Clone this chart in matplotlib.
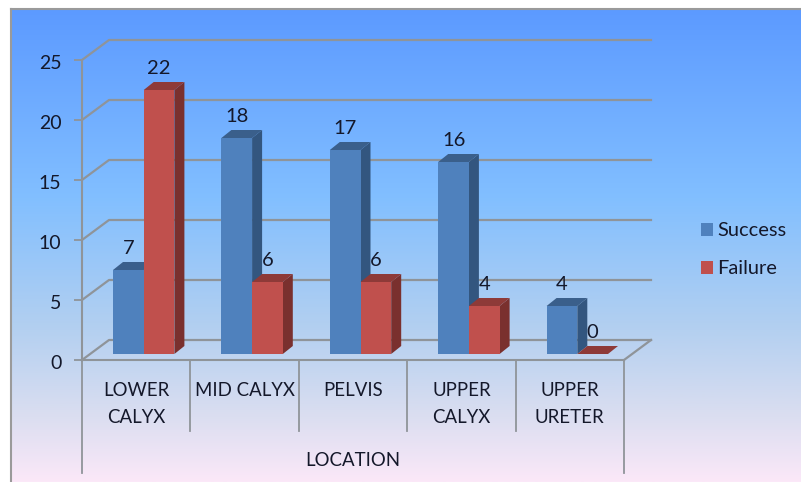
#!/usr/bin/env python3
import numpy as np
from matplotlib import pyplot as plt
from matplotlib.colors import LinearSegmentedColormap
from matplotlib.patches import Patch, Polygon
from matplotlib.transforms import ScaledTranslation

categories = ["LOWER\nCALYX", "MID CALYX", "PELVIS", "UPPER\nCALYX", "UPPER\nURETER"]
success = [7, 18, 17, 16, 4]
failure = [22, 6, 6, 4, 0]
y_ticks = [0, 5, 10, 15, 20, 25]

W, H = 801, 482
LINE = "#8f9499"
TEXT = "#14182a"
BLUE = ("#4f81bd", "#3a5f8b", "#33567f")
RED = ("#c0504d", "#8e3a38", "#7a302e")

# one category is 108.4 px wide, one y unit is 12 px
PX_X = 542 / 5
PX_Y = 12.0
WALL_DX, WALL_DY = 27 / PX_X, 20 / PX_Y
BAR_DX, BAR_DY = 10 / PX_X, 8 / PX_Y
BASE_DX, BASE_DY = 31 / PX_X, 6 / PX_Y
BAR_W = 30.7 / PX_X

plt.rcParams["font.family"] = ["Lato", "DejaVu Sans"]
plt.rcParams["font.size"] = 13.4

fig = plt.figure(figsize=(W / 100, H / 100), dpi=100, facecolor="white")

# gradient background with grey frame on the top and left
bg = fig.add_axes([11 / W, 0, (W - 11) / W, (H - 9) / H])
cmap = LinearSegmentedColormap.from_list(
    "bg",
    [(0, "#5c9aff"), (0.4, "#82bfff"), (0.68, "#b4d0f0"), (0.85, "#d8ddf0"), (1, "#fbe8f8")],
)
bg.imshow(np.linspace(0, 1, 256)[:, None], aspect="auto", cmap=cmap, vmin=0, vmax=1)
bg.set_xticks([])
bg.set_yticks([])
for side in ("right", "bottom"):
    bg.spines[side].set_visible(False)
for side in ("top", "left"):
    bg.spines[side].set_color("#9a9a9a")
    bg.spines[side].set_linewidth(1.5)

# axes fitted on the front plane of the 3D box
ax = fig.add_axes([82 / W, (H - 360) / H, 542 / W, 300 / H])
ax.patch.set_alpha(0)
ax.set_xlim(0, 5)
ax.set_ylim(0, 25)
for side in ("top", "right"):
    ax.spines[side].set_visible(False)
for side in ("left", "bottom"):
    ax.spines[side].set_color(LINE)
    ax.spines[side].set_linewidth(1.5)

ax.set_yticks(y_ticks)
ax.tick_params(axis="y", length=5.8, width=1.3, color=LINE, pad=9, labelcolor=TEXT, labelsize=14)
# the numbers sit a little below their ticks
shift = ScaledTranslation(0, -2 / 100, fig.dpi_scale_trans)
for label in ax.get_yticklabels():
    label.set_transform(label.get_transform() + shift)
ax.set_xticks(np.arange(5) + 0.5)
ax.set_xticklabels(categories, linespacing=1.75, color=TEXT)
ax.tick_params(axis="x", length=0, pad=15.5)

# back wall lines and the side lines joining them to the axis
for v in y_ticks:
    ax.plot([0, WALL_DX, 5 + WALL_DX], [v, v + WALL_DY, v + WALL_DY],
            color=LINE, lw=1.6, clip_on=False, zorder=1)
ax.plot([5, 5 + WALL_DX], [0, WALL_DY], color=LINE, lw=1.6, clip_on=False, zorder=1)

# category separators below the floor
for i in range(6):
    low = -9.42 if i in (0, 5) else -5.92
    ax.plot([i, i], [0, low], color=LINE, lw=1.3, clip_on=False, zorder=1)

ax.text(2.5, -8.4, "LOCATION", ha="center", va="center", color=TEXT)


def draw_bar(x, value, colors):
    front, top, side = colors
    y0 = BASE_DY
    y1 = BASE_DY + value
    ax.add_patch(Polygon([(x + BAR_W, y0), (x + BAR_W + BAR_DX, y0 + BAR_DY),
                          (x + BAR_W + BAR_DX, y1 + BAR_DY), (x + BAR_W, y1)],
                         fc=side, ec="none", clip_on=False, zorder=3))
    ax.add_patch(Polygon([(x, y1), (x + BAR_W, y1), (x + BAR_W + BAR_DX, y1 + BAR_DY),
                          (x + BAR_DX, y1 + BAR_DY)],
                         fc=top, ec="none", clip_on=False, zorder=3))
    ax.add_patch(Polygon([(x, y0), (x + BAR_W, y0), (x + BAR_W, y1), (x, y1)],
                         fc=front, ec="none", clip_on=False, zorder=3))
    ax.text(x + BAR_W / 2, y1 + 1.78, str(value), ha="center", va="center",
            color=TEXT, fontsize=14.5, zorder=4)


# blue first: the red bar stands in front of its side face
for i in range(5):
    x_s = i + BASE_DX
    draw_bar(x_s, success[i], BLUE)
    draw_bar(x_s + BAR_W, failure[i], RED)

handles = [Patch(fc=BLUE[0], label="Success"), Patch(fc=RED[0], label="Failure")]
fig.legend(
    handles=handles,
    loc="center left",
    bbox_to_anchor=(695 / W, (H - 250) / H),
    frameon=False,
    labelcolor=TEXT,
    fontsize=14.4,
    handlelength=0.62,
    handleheight=0.62,
    handletextpad=0.2,
    labelspacing=1.05,
    borderpad=0.3,
    borderaxespad=0,
)

fig.savefig("out.png", dpi=100)
plt.close(fig)
